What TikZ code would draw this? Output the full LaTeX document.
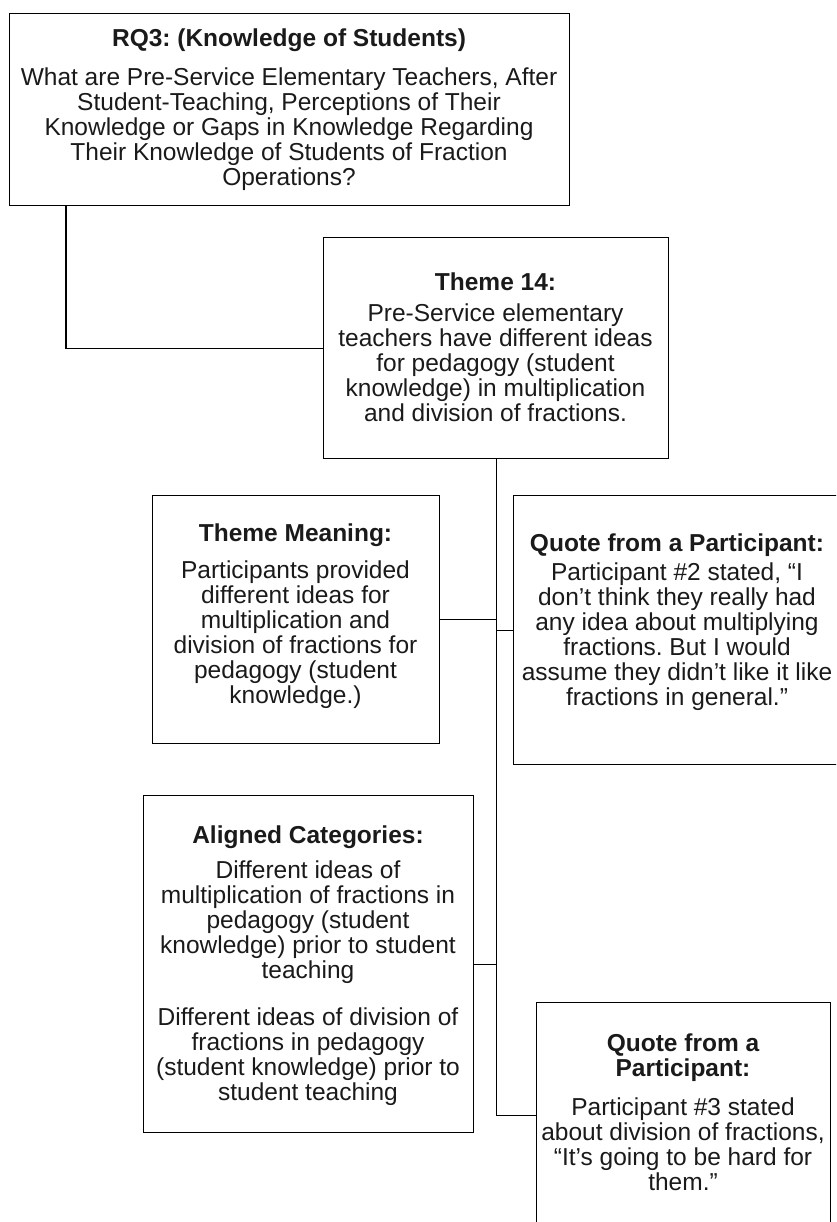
\documentclass[tikz,border=0pt]{standalone}
\usepackage{fontspec}
\setmainfont{Liberation Sans}
\usetikzlibrary{calc}
\definecolor{ink}{RGB}{26,26,26}
\frenchspacing
\begin{document}
\begin{tikzpicture}[x=1pt,y=-1pt,
  box/.style={draw=black, line width=1.3pt, rectangle, inner sep=0pt, anchor=north west},
  head/.style={font=\bfseries\fontsize{24.5}{25}\selectfont, align=center, anchor=north, inner sep=0pt, text=ink},
  body/.style={font=\fontsize{24.5}{25}\selectfont, align=center, anchor=north, inner sep=0pt, text=ink},
  link/.style={draw=black, line width=1.3pt}]
\useasboundingbox (0,0) rectangle (836,1222);
\clip (0,0) rectangle (836,1222);

% boxes
\node[box, minimum width=560pt, minimum height=192pt] (rq) at (9,13) {};
\node[box, minimum width=345pt, minimum height=221pt] (t14) at (323,237) {};
\node[box, minimum width=287pt, minimum height=248pt] (tm) at (152,495) {};
\node[box, minimum width=328pt, minimum height=269pt] (q1) at (513,495) {};
\node[box, minimum width=330pt, minimum height=337pt] (al) at (143,795) {};
\node[box, minimum width=294pt, minimum height=226pt] (q2) at (536,1002) {};

% connectors
\draw[link] ($(rq.south west)+(57,0)$) |- (t14.west);
\draw[link] (t14.south) |- (q2.west);
\draw[link] (tm.east) -- (tm.east -| t14.south);
\draw[link] (q1.west) -- (q1.west -| t14.south);
\draw[link] (al.east) -- (al.east -| t14.south);

% texts
\node[head] (rqh) at (289,29) {RQ3: (Knowledge of Students)};
\node[body] (rqb) at (289,68) {What are Pre-Service Elementary Teachers, After\\Student-Teaching, Perceptions of Their\\Knowledge or Gaps in Knowledge Regarding\\Their Knowledge of Students of Fraction\\Operations?};

\node[head] (t14h) at (495.5,273) {Theme 14:};
\node[body] (t14b) at (495.5,304) {Pre-Service elementary\\teachers have different ideas\\for pedagogy (student\\knowledge) in multiplication\\and division of fractions.};

\node[head] (tmh) at (295.5,524) {Theme Meaning:};
\node[body] (tmb) at (295.5,561) {Participants provided\\different ideas for\\multiplication and\\division of fractions for\\pedagogy (student\\knowledge.)};

\node[head] (q1h) at (677,534) {Quote from a Participant:};
\node[body] (q1b) at (677,563) {Participant \#2 stated, “I\\don’t think they really had\\any idea about multiplying\\fractions. But I would\\assume they didn’t like it like\\fractions in general.”};

\node[head] (alh) at (308,826) {Aligned Categories:};
\node[body] (alb1) at (308,861) {Different ideas of\\multiplication of fractions in\\pedagogy (student\\knowledge) prior to student\\teaching};
\node[body] (alb2) at (308,1008) {Different ideas of division of\\fractions in pedagogy\\(student knowledge) prior to\\student teaching};

\node[head] (q2h) at (683,1034) {Quote from a\\Participant:};
\node[body] (q2b) at (683,1098) {Participant \#3 stated\\about division of fractions,\\“It’s going to be hard for\\them.”};
\end{tikzpicture}
\end{document}
